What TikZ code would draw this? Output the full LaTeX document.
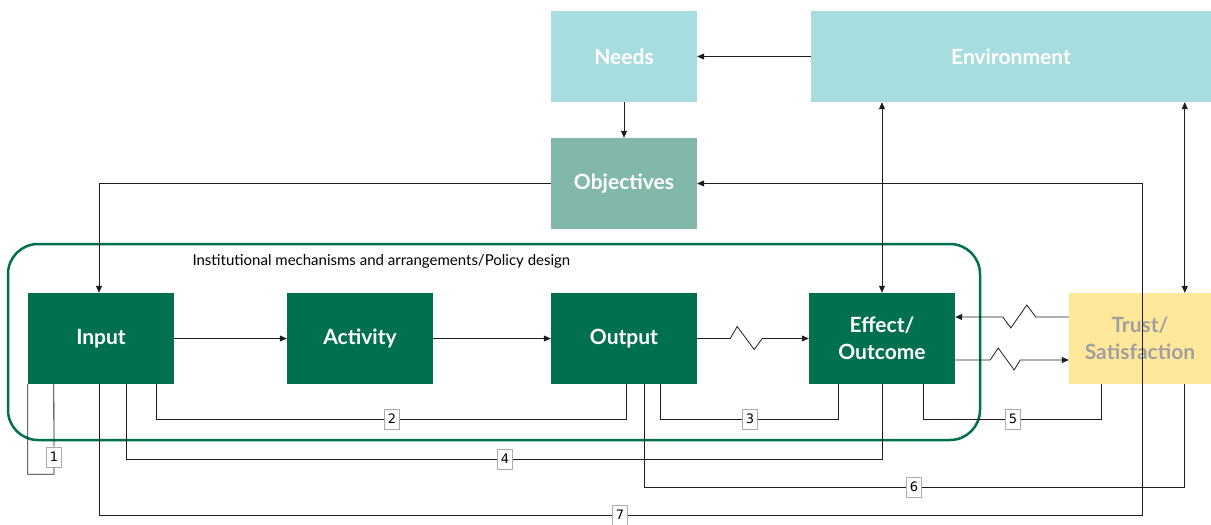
\documentclass[tikz,border=0pt]{standalone}
\usepackage{fontspec}
\setmainfont{Lato}
\newfontfamily\numfont{DejaVu Sans}
\usepackage{tikz}
\usetikzlibrary{arrows.meta}
\definecolor{DeepGreen}{HTML}{00704F}
\definecolor{PaleTeal}{HTML}{A8DDE0}
\definecolor{SageGreen}{HTML}{82B8A9}
\definecolor{SoftYellow}{HTML}{FFE899}
\definecolor{TextGray}{HTML}{A0A0A0}
\definecolor{LineGray}{HTML}{1E1E1E}
\definecolor{NumGray}{HTML}{ABABAB}

\begin{document}
\begin{tikzpicture}[x=1pt, y=-1pt,
  box/.style={minimum width=146pt, minimum height=91pt, inner sep=0pt,
              align=center, font=\fontsize{21}{27}\selectfont\bfseries, text=white},
  arr/.style={-{Triangle[length=7pt, width=6pt]}, line width=0.8pt, draw=LineGray},
  dbl/.style={{Triangle[length=7pt, width=6pt]}-{Triangle[length=7pt, width=6pt]},
              line width=0.8pt, draw=LineGray},
  link/.style={line width=0.8pt, draw=LineGray},
  num/.style={draw=NumGray, fill=white, line width=0.8pt, inner sep=0pt,
              minimum width=15pt, minimum height=20pt,
              font=\numfont\fontsize{13}{13}\selectfont}
]
\useasboundingbox (0,0) rectangle (1211,525);

% ── FRAME ─────────────────────────────────────────────────────────────────────
\node[draw=DeepGreen, line width=2.5pt, rounded corners=30pt,
      minimum width=972pt, minimum height=196pt] (design) at (494,342) {};
\node[font=\fontsize{15}{15}\selectfont, anchor=west] (designlabel) at (189,261)
  {Institutional mechanisms and arrangements/Policy design};

% ── BOXES ─────────────────────────────────────────────────────────────────────
\node[box, fill=PaleTeal]  (needs)       at (624, 56.5) {Needs};
\node[box, fill=PaleTeal, minimum width=400pt] (environment) at (1011, 56.5) {Environment};
\node[box, fill=SageGreen] (objectives)  at (624, 183.5) {Objectives};

\node[box, fill=DeepGreen] (input)    at (101, 338.5) {Input};
\node[box, fill=DeepGreen] (activity) at (360, 338.5) {Activity};
\node[box, fill=DeepGreen] (output)   at (624, 338.5) {Output};
\node[box, fill=DeepGreen] (effect)   at (882, 338.5) {Effect/\\Outcome};
\node[box, fill=SoftYellow, text=TextGray, minimum width=142pt] (trust) at (1140, 338.5) {Trust/\\Satisfaction};

% ── MAIN FLOW ─────────────────────────────────────────────────────────────────
\draw[arr] (environment.west) -- (needs.east);
\draw[arr] (needs.south) -- (objectives.north);
\draw[arr] (objectives.west) -| ([xshift=-2pt]input.north);
\draw[arr] (input.east) -- (activity.west);
\draw[arr] (activity.east) -- (output.west);
\draw[arr] (output.east) -- ++(33,0) -- ++(7,-12) -- ++(17,23) -- ++(8,-11) -- (effect.west);

\draw[dbl] (effect.north) -- (effect.north |- environment.south);
\draw[dbl] ([xshift=116pt]trust.north west) -- ([xshift=116pt]trust.north west |- environment.south);

% trust feedback
\draw[arr] ([yshift=21.5pt]trust.west) -- ++(-33,0) -- ++(-9,-12) -- ++(-16,23) -- ++(-8,-11) -- ([yshift=21.5pt]effect.east);
\draw[arr] ([yshift=-21.5pt]effect.east) -- ++(35,0) -- ++(8,-12) -- ++(16,22) -- ++(6,-10) -- ([yshift=-21.5pt]trust.west);

% ── NUMBERED LOOPS ────────────────────────────────────────────────────────────
\node[num] (n1) at (54, 457) {1};
\node[num] (n2) at (392, 419) {2};
\node[num] (n3) at (750, 419) {3};
\node[num] (n4) at (505, 459) {4};
\node[num] (n5) at (1013, 419) {5};
\node[num] (n6) at (914, 487) {6};
\node[num] (n7) at (620, 515) {7};
\coordinate (c7) at (1142, 183.5);

\draw[link] (input.south west) -- ++(0,90) -| (n1) -- ([xshift=26pt]input.south west);
\draw[link] ([xshift=129pt]input.south west) |- (n2) -| ([xshift=76pt]output.south west);
\draw[link] ([xshift=110pt]output.south west) |- (n3) -| ([xshift=30pt]effect.south west);
\draw[link] ([xshift=99pt]input.south west) |- (n4) -| (effect.south);
\draw[link] ([xshift=115pt]effect.south west) |- (n5) -| ([xshift=33pt]trust.south west);
\draw[link] ([xshift=94pt]output.south west) |- (n6) -| ([xshift=116pt]trust.south west);
\draw[arr]  ([xshift=-2pt]input.south) |- (n7) -| (c7) -- (objectives.east);

\end{tikzpicture}
\end{document}
